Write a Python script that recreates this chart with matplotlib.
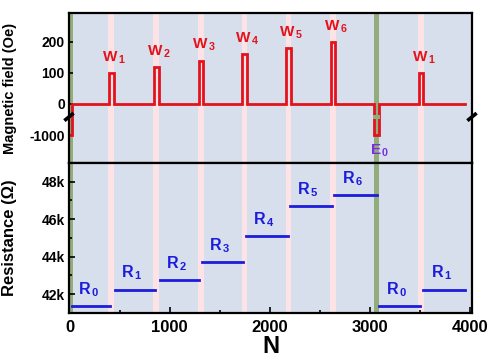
import matplotlib
matplotlib.use("Agg")
import matplotlib.pyplot as plt
from matplotlib.ticker import MultipleLocator, FuncFormatter

plt.rcParams['font.family'] = ['Liberation Sans', 'DejaVu Sans']
plt.rcParams['font.weight'] = 'bold'
plt.rcParams['mathtext.fontset'] = 'custom'
plt.rcParams['mathtext.rm'] = 'Liberation Sans:bold'
plt.rcParams['mathtext.bf'] = 'Liberation Sans:bold'
plt.rcParams['mathtext.it'] = 'Liberation Sans:bold'

# field pulses (N where the pulse starts, field in Oe)
init_pulse = (0, 25, -1000)
pulse_start = [395, 845, 1290, 1725, 2165, 2610, 3045, 3490]
pulse_len = 45
pulse_field = [100, 120, 140, 160, 180, 200, -1000, 100]
pulse_names = ['W', 'W', 'W', 'W', 'W', 'W', 'E', 'W']
pulse_subs = ['1', '2', '3', '4', '5', '6', '0', '1']
trace_end = 3950

# resistance plateaus
res_start = [30, 450, 900, 1320, 1760, 2200, 2640, 3090, 3530]
res_end = [400, 850, 1290, 1730, 2180, 2620, 3070, 3500, 3950]
res_value = [41380, 42250, 42750, 43700, 45100, 46700, 47300, 41370, 42250]
res_subs = ['0', '1', '2', '3', '4', '5', '6', '0', '1']

bg = '#d6dfeb'
pink = '#fde3e6'
green = '#93ad7a'
red = '#e3121c'
blue = '#1c1cdc'
purple = '#7a2ee0'


def squash(v):
    # broken axis: negative part shrunk 10x
    return v if v >= 0 else v / 10.0


def lab(letter, sub):
    return r'$\mathbf{%s}_{\,\mathbf{%s}}$' % (letter, sub)


fig = plt.figure(figsize=(4.91, 3.60), dpi=100)
ax1 = fig.add_axes([0.1405, 0.5472, 0.8208, 0.4167])
ax2 = fig.add_axes([0.1405, 0.1306, 0.8208, 0.4167])

for ax in (ax1, ax2):
    ax.set_facecolor(bg)
    ax.set_xlim(-5, 4020)
    for s, h in zip(pulse_start, pulse_field):
        if h < 0:
            ax.axvspan(s - 5, s + pulse_len + 5, color=green, lw=0, zorder=0.5)
        else:
            ax.axvspan(s - 6, s + pulse_len + 6, color=pink, lw=0, zorder=0.5)
    ax.axvspan(init_pulse[0], init_pulse[1] + 10, color=green, lw=0, zorder=0.5)
    for sp in ax.spines.values():
        sp.set_linewidth(1.6)

# field trace
xs = [init_pulse[0], init_pulse[1], init_pulse[1]]
ys = [init_pulse[2], init_pulse[2], 0]
for s, h in zip(pulse_start, pulse_field):
    xs += [s, s, s + pulse_len, s + pulse_len]
    ys += [0, h, h, 0]
xs.append(trace_end)
ys.append(0)
ax1.plot(xs, [squash(v) for v in ys], color=red, lw=2, solid_joinstyle='miter', zorder=2)

for s, h, name, sub in zip(pulse_start, pulse_field, pulse_names, pulse_subs):
    xc = s + pulse_len / 2
    if h < 0:
        ax1.fill_between([s - 10, s + pulse_len + 10], -47, -37, color=green, lw=0, zorder=3)
        ax1.annotate(lab(name, sub), (xc, squash(h)), xytext=(2, -11),
                     textcoords='offset points', ha='center', va='center',
                     color=purple, fontsize=11)
    else:
        ax1.annotate(lab(name, sub), (xc, h), xytext=(2, 11),
                     textcoords='offset points', ha='center', va='center',
                     color=red, fontsize=11)

ax1.set_ylim(-190, 293)
ax1.set_yticks([-100, 0, 100, 200])
ax1.yaxis.set_major_formatter(FuncFormatter(lambda v, p: '-1000' if v < 0 else '%d' % v))
ax1.set_xticks([])
ax1.tick_params(axis='y', direction='in', length=3, width=1.2, labelsize=10, pad=3)
ax1.set_ylabel('Magnetic field (Oe)', fontsize=10.5, fontweight='bold')
ax1.yaxis.set_label_coords(-0.13, 0.5)

# axis break marks
for xb in (0, 1):
    ax1.plot([xb - 0.008, xb + 0.008], [0.29, 0.325], transform=ax1.transAxes,
             color='black', lw=2.6, clip_on=False, zorder=5)

# resistance plateaus
for a, b, r, sub in zip(res_start, res_end, res_value, res_subs):
    ax2.plot([a, b], [r, r], color=blue, lw=2, zorder=2)
    ax2.annotate(lab('R', sub), ((a + b) / 2, r), xytext=(-2, 12),
                 textcoords='offset points', ha='center', va='center',
                 color=blue, fontsize=11.5)

ax2.set_ylim(41000, 49000)
ax2.set_yticks([42000, 44000, 46000, 48000])
ax2.yaxis.set_minor_locator(MultipleLocator(1000))
ax2.yaxis.set_major_formatter(FuncFormatter(lambda v, p: '%dk' % (v / 1000)))
ax2.set_xticks([0, 1000, 2000, 3000, 4000])
ax2.xaxis.set_minor_locator(MultipleLocator(500))
ax2.tick_params(axis='both', which='major', direction='in', length=4, width=1.2)
ax2.tick_params(axis='both', which='minor', direction='in', length=2, width=1.2)
ax2.tick_params(axis='y', labelsize=10, pad=3)
ax2.tick_params(axis='x', labelsize=12, pad=5)
ax2.set_ylabel('Resistance (Ω)', fontsize=12, fontweight='bold')
ax2.yaxis.set_label_coords(-0.13, 0.5)
ax2.set_xlabel('N', fontsize=17, fontweight='bold', labelpad=0)

fig.savefig('out.png', dpi=100)
